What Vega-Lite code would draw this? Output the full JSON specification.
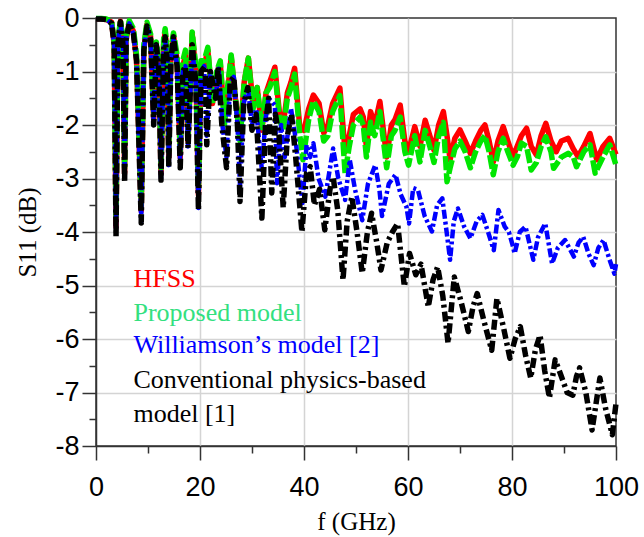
{
  "$schema": "https://vega.github.io/schema/vega-lite/v6.json",
  "width": 520,
  "height": 428,
  "autosize": {"type": "none"},
  "padding": {"left": 96, "top": 18, "right": 28, "bottom": 91},
  "background": "white",
  "config": {
    "view": {"stroke": "#333333", "strokeWidth": 1.5},
    "axis": {
      "domainColor": "#333333", "domainWidth": 1.5,
      "tickColor": "#333333", "tickWidth": 1.5,
      "gridColor": "#d4d4d4", "gridWidth": 1.5,
      "labelFont": "Liberation Sans", "labelFontSize": 27, "labelColor": "#000000",
      "titleFont": "Liberation Serif", "titleFontSize": 25, "titleFontWeight": "normal", "titleColor": "#000000",
      "labelOverlap": false, "labelFlush": false
    }
  },
  "datasets": {
    "hfss": [
      {"f":0,"s":-0.02},{"f":1,"s":-0.02},{"f":2,"s":-0.03},{"f":3,"s":-0.08},{"f":3.5,"s":-0.5},{"f":3.85,"s":-3.9},{"f":4.2,"s":-0.5},{"f":4.7,"s":-0.06},{"f":5.2,"s":-0.5},{"f":5.5,"s":-2.9},{"f":5.8,"s":-0.4},{"f":6.4,"s":-0.08},{"f":7.2,"s":-0.25},{"f":7.8,"s":-0.8},{"f":8.7,"s":-3.6},{"f":9.2,"s":-0.6},{"f":9.8,"s":-0.12},{"f":10.5,"s":-0.35},{"f":11.1,"s":-1.9},{"f":11.6,"s":-0.5},{"f":12.1,"s":-0.9},{"f":12.5,"s":-2.9},{"f":13,"s":-0.5},{"f":13.3,"s":-0.25},{"f":13.7,"s":-0.7},{"f":14,"s":-2.6},{"f":14.4,"s":-0.7},{"f":14.9,"s":-0.32},{"f":15.6,"s":-0.8},{"f":16.2,"s":-2.6},{"f":16.7,"s":-0.9},{"f":17.2,"s":-0.7},{"f":17.7,"s":-2.3},{"f":18.5,"s":-0.3},{"f":19.2,"s":-1.0},{"f":19.7,"s":-3.3},{"f":20.2,"s":-0.9},
      {"f":20.8,"s":-0.9},{"f":21.5,"s":-0.6},{"f":22.4,"s":-1.6},{"f":23.2,"s":-1.1},{"f":23.9,"s":-0.85},{"f":24.7,"s":-1.9},{"f":25.3,"s":-1.4},{"f":26,"s":-0.72},{"f":26.8,"s":-1.5},{"f":27.7,"s":-2.2},{"f":28.5,"s":-1.2},{"f":29.3,"s":-0.75},{"f":30.2,"s":-1.6},{"f":31,"s":-1.3},{"f":31.9,"s":-2.1},{"f":32.7,"s":-1.4},{"f":33.4,"s":-1.2},{"f":34.4,"s":-0.92},{"f":35.3,"s":-1.8},{"f":36,"s":-2.0},{"f":36.8,"s":-1.4},{"f":37.5,"s":-1.2},{"f":38.2,"s":-0.94},{"f":39.2,"s":-2.05},{"f":40,"s":-2.1},
      {"f":40.9,"s":-1.7},{"f":41.8,"s":-1.44},{"f":42.9,"s":-1.6},{"f":43.8,"s":-2.15},{"f":44.6,"s":-2.0},{"f":45.5,"s":-1.6},{"f":46.9,"s":-1.31},{"f":47.9,"s":-2.5},{"f":48.7,"s":-2.2},{"f":49.5,"s":-1.8},{"f":50.8,"s":-1.7},{"f":51.4,"s":-1.85},{"f":52,"s":-2.4},{"f":52.8,"s":-1.75},{"f":53.6,"s":-2.0},{"f":54.6,"s":-1.56},{"f":55.9,"s":-2.6},{"f":56.8,"s":-2.0},{"f":57.5,"s":-1.9},{"f":58.5,"s":-1.63},{"f":59.4,"s":-2.3},{"f":60.1,"s":-2.5},
      {"f":61.3,"s":-2.03},{"f":62.3,"s":-2.4},{"f":63.3,"s":-1.91},{"f":64.2,"s":-2.2},{"f":65,"s":-2.47},{"f":65.9,"s":-2.0},{"f":66.8,"s":-1.75},{"f":67.5,"s":-2.2},{"f":68.1,"s":-2.65},{"f":69,"s":-2.25},{"f":70,"s":-2.09},{"f":71,"s":-2.3},{"f":72,"s":-2.53},{"f":73,"s":-2.3},{"f":74,"s":-2.1},{"f":74.8,"s":-2.0},{"f":75.6,"s":-2.3},{"f":76.4,"s":-2.69},{"f":77.3,"s":-2.3},{"f":78.3,"s":-2.03},{"f":79.2,"s":-2.3},{"f":80.2,"s":-2.59},
      {"f":81,"s":-2.4},{"f":81.8,"s":-2.2},{"f":82.8,"s":-2.06},{"f":83.7,"s":-2.4},{"f":84.7,"s":-2.56},{"f":85.6,"s":-2.2},{"f":86.5,"s":-1.97},{"f":87.5,"s":-2.3},{"f":88.5,"s":-2.5},{"f":89.5,"s":-2.3},{"f":90.8,"s":-2.25},{"f":91.8,"s":-2.45},{"f":92.7,"s":-2.59},{"f":93.8,"s":-2.4},{"f":95,"s":-2.16},{"f":96.3,"s":-2.65},{"f":97.5,"s":-2.4},{"f":98.8,"s":-2.25},{"f":100,"s":-2.55}
    ],
    "proposed": [
      {"f":0,"s":-0.01},{"f":1,"s":-0.01},{"f":2,"s":-0.02},{"f":3,"s":-0.06},{"f":3.5,"s":-0.45},{"f":3.85,"s":-3.7},{"f":4.2,"s":-0.45},{"f":4.7,"s":-0.04},{"f":5.2,"s":-0.45},{"f":5.5,"s":-2.8},{"f":5.8,"s":-0.35},{"f":6.4,"s":-0.05},{"f":7.2,"s":-0.2},{"f":7.8,"s":-0.7},{"f":8.7,"s":-3.5},{"f":9.2,"s":-0.5},{"f":9.8,"s":-0.08},{"f":10.5,"s":-0.3},{"f":11.1,"s":-1.8},{"f":11.6,"s":-0.45},{"f":12.1,"s":-0.8},{"f":12.5,"s":-2.8},{"f":13,"s":-0.4},{"f":13.3,"s":-0.2},{"f":13.7,"s":-0.6},{"f":14,"s":-2.5},{"f":14.4,"s":-0.6},{"f":14.9,"s":-0.28},{"f":15.6,"s":-0.7},{"f":16.2,"s":-2.5},{"f":16.7,"s":-0.8},{"f":17.2,"s":-0.6},{"f":17.7,"s":-2.2},{"f":18.5,"s":-0.26},{"f":19.2,"s":-0.9},{"f":19.7,"s":-3.2},{"f":20.2,"s":-0.8},
      {"f":20.8,"s":-0.8},{"f":21.5,"s":-0.55},{"f":22.4,"s":-1.6},{"f":23.2,"s":-1.0},{"f":23.9,"s":-0.8},{"f":24.7,"s":-2.0},{"f":25.3,"s":-1.3},{"f":26,"s":-0.69},{"f":26.8,"s":-1.5},{"f":27.7,"s":-2.3},{"f":28.5,"s":-1.2},{"f":29.3,"s":-0.75},{"f":30.2,"s":-1.7},{"f":31,"s":-1.3},{"f":31.9,"s":-2.05},{"f":32.7,"s":-1.4},{"f":33.4,"s":-1.3},{"f":34.4,"s":-1.0},{"f":35.3,"s":-1.9},{"f":36,"s":-2.1},{"f":36.8,"s":-1.5},{"f":37.5,"s":-1.3},{"f":38.2,"s":-1.05},{"f":39.2,"s":-2.2},{"f":39.8,"s":-2.65},
      {"f":40.9,"s":-1.9},{"f":41.8,"s":-1.55},{"f":42.9,"s":-1.75},{"f":43.8,"s":-2.3},{"f":44.6,"s":-2.2},{"f":45.5,"s":-1.75},{"f":46.9,"s":-1.45},{"f":47.9,"s":-2.9},{"f":48.7,"s":-2.4},{"f":49.5,"s":-2.0},{"f":50.8,"s":-1.85},{"f":51.4,"s":-2.0},{"f":52,"s":-2.6},{"f":52.8,"s":-1.95},{"f":53.6,"s":-2.2},{"f":54.6,"s":-1.75},{"f":55.9,"s":-2.8},{"f":56.8,"s":-2.2},{"f":57.5,"s":-2.1},{"f":58.5,"s":-1.85},{"f":59.4,"s":-2.5},{"f":60.1,"s":-2.75},
      {"f":61.3,"s":-2.2},{"f":62.3,"s":-2.69},{"f":63.3,"s":-2.1},{"f":64.2,"s":-2.4},{"f":65,"s":-2.7},{"f":65.9,"s":-2.2},{"f":66.8,"s":-1.95},{"f":67.5,"s":-3.06},{"f":68.1,"s":-2.8},{"f":69,"s":-2.45},{"f":70,"s":-2.3},{"f":71,"s":-2.5},{"f":72,"s":-2.8},{"f":73,"s":-2.5},{"f":74,"s":-2.3},{"f":74.8,"s":-2.2},{"f":75.6,"s":-2.5},{"f":76.4,"s":-2.93},{"f":77.3,"s":-2.5},{"f":78.3,"s":-2.25},{"f":79.2,"s":-2.5},{"f":80.2,"s":-2.75},
      {"f":81,"s":-2.6},{"f":81.8,"s":-2.34},{"f":82.8,"s":-2.4},{"f":83.7,"s":-2.84},{"f":84.7,"s":-2.7},{"f":85.6,"s":-2.4},{"f":86.5,"s":-2.22},{"f":87.5,"s":-2.5},{"f":88,"s":-2.81},{"f":89.5,"s":-2.6},{"f":90.8,"s":-2.53},{"f":91.8,"s":-2.6},{"f":92.4,"s":-2.78},{"f":93.8,"s":-2.5},{"f":95,"s":-2.37},{"f":96,"s":-2.9},{"f":97.5,"s":-2.6},{"f":98.8,"s":-2.37},{"f":100,"s":-2.75}
    ],
    "williamson": [
      {"f":0,"s":-0.02},{"f":1,"s":-0.02},{"f":2,"s":-0.03},{"f":3,"s":-0.1},{"f":3.5,"s":-0.5},{"f":3.85,"s":-3.95},{"f":4.2,"s":-0.5},{"f":4.7,"s":-0.08},{"f":5.2,"s":-0.5},{"f":5.5,"s":-3.0},{"f":5.8,"s":-0.4},{"f":6.4,"s":-0.1},{"f":7.2,"s":-0.3},{"f":7.8,"s":-0.8},{"f":8.7,"s":-3.8},{"f":9.2,"s":-0.6},{"f":9.8,"s":-0.17},{"f":10.5,"s":-0.4},{"f":11.1,"s":-2.0},{"f":11.6,"s":-0.5},{"f":12.1,"s":-1.0},{"f":12.5,"s":-3.0},{"f":13,"s":-0.6},{"f":13.3,"s":-0.4},{"f":13.7,"s":-0.8},{"f":14,"s":-2.75},{"f":14.4,"s":-0.8},{"f":14.9,"s":-0.4},{"f":15.6,"s":-0.9},{"f":16.2,"s":-2.75},{"f":16.7,"s":-1.0},{"f":17.2,"s":-0.9},{"f":17.7,"s":-2.4},{"f":18.5,"s":-0.6},{"f":19.2,"s":-1.2},{"f":19.7,"s":-3.55},{"f":20.2,"s":-1.0},
      {"f":20.8,"s":-0.9},{"f":21.3,"s":-2.2},{"f":22,"s":-1.0},{"f":23,"s":-1.5},{"f":23.6,"s":-0.95},{"f":24.3,"s":-2.0},{"f":25.1,"s":-2.6},{"f":25.8,"s":-1.2},{"f":26.5,"s":-1.1},{"f":27.2,"s":-2.0},{"f":27.7,"s":-3.15},{"f":28.4,"s":-1.6},{"f":29.2,"s":-1.3},{"f":30,"s":-2.0},{"f":30.8,"s":-1.7},{"f":31.9,"s":-2.84},{"f":32.6,"s":-1.9},{"f":33.2,"s":-1.5},{"f":34.4,"s":-1.63},{"f":34.8,"s":-3.09},{"f":35.6,"s":-2.0},{"f":36.3,"s":-2.6},{"f":37.5,"s":-1.69},{"f":38.3,"s":-2.2},{"f":39.7,"s":-3.46},
      {"f":40.5,"s":-2.37},{"f":41.2,"s":-2.6},{"f":41.8,"s":-2.34},{"f":42.8,"s":-3.0},{"f":44.1,"s":-3.34},{"f":45,"s":-2.8},{"f":45.6,"s":-2.44},{"f":46.6,"s":-3.0},{"f":47.9,"s":-3.4},{"f":48.8,"s":-2.65},{"f":49.8,"s":-3.2},{"f":51.2,"s":-3.78},{"f":52.3,"s":-3.1},{"f":53.7,"s":-2.75},{"f":54.5,"s":-3.2},{"f":55,"s":-3.7},{"f":56.3,"s":-3.1},{"f":57.6,"s":-2.93},{"f":58.6,"s":-3.3},{"f":59.7,"s":-3.53},{"f":60.2,"s":-3.84},
      {"f":61,"s":-3.18},{"f":61.9,"s":-3.21},{"f":63.2,"s":-3.7},{"f":64.6,"s":-3.99},{"f":65.6,"s":-3.5},{"f":66.6,"s":-3.37},{"f":67.3,"s":-3.9},{"f":68.1,"s":-4.52},{"f":68.8,"s":-3.8},{"f":69.6,"s":-3.56},{"f":70.8,"s":-3.9},{"f":72,"s":-4.12},{"f":73.2,"s":-3.8},{"f":74.3,"s":-3.68},{"f":75.4,"s":-4.0},{"f":76.5,"s":-4.34},{"f":77.4,"s":-3.59},{"f":78.6,"s":-3.9},{"f":79.4,"s":-4.0},{"f":80.1,"s":-4.24},
      {"f":80.5,"s":-4.4},{"f":81.5,"s":-4.0},{"f":82.6,"s":-3.9},{"f":84.1,"s":-4.52},{"f":85,"s":-4.1},{"f":86.4,"s":-3.84},{"f":87.7,"s":-4.59},{"f":88.8,"s":-4.3},{"f":90.2,"s":-4.15},{"f":91.9,"s":-4.46},{"f":92.8,"s":-4.2},{"f":93.7,"s":-4.09},{"f":94.7,"s":-4.4},{"f":95.7,"s":-4.62},{"f":96.6,"s":-4.3},{"f":97.6,"s":-4.15},{"f":98.7,"s":-4.5},{"f":99.7,"s":-4.78},{"f":100,"s":-4.6}
    ],
    "conventional": [
      {"f":0,"s":-0.02},{"f":1,"s":-0.02},{"f":2,"s":-0.03},{"f":3,"s":-0.1},{"f":3.5,"s":-0.5},{"f":3.85,"s":-4.09},{"f":4.2,"s":-0.5},{"f":4.7,"s":-0.07},{"f":5.2,"s":-0.5},{"f":5.5,"s":-3.08},{"f":5.8,"s":-0.4},{"f":6.4,"s":-0.1},{"f":7.2,"s":-0.3},{"f":7.8,"s":-0.8},{"f":8.7,"s":-3.83},{"f":9.2,"s":-0.6},{"f":9.8,"s":-0.15},{"f":10.5,"s":-0.4},{"f":11.1,"s":-2.0},{"f":11.6,"s":-0.5},{"f":12.1,"s":-1.0},{"f":12.5,"s":-3.03},{"f":13,"s":-0.6},{"f":13.3,"s":-0.35},{"f":13.7,"s":-0.8},{"f":14,"s":-2.8},{"f":14.4,"s":-0.8},{"f":14.9,"s":-0.35},{"f":15.6,"s":-0.9},{"f":16.2,"s":-2.8},{"f":16.7,"s":-1.0},{"f":17.2,"s":-0.9},{"f":17.7,"s":-2.43},{"f":18.5,"s":-0.5},{"f":19.2,"s":-1.2},{"f":19.7,"s":-3.59},{"f":20.2,"s":-1.0},
      {"f":21,"s":-0.9},{"f":21.3,"s":-2.37},{"f":22,"s":-1.0},{"f":23,"s":-1.5},{"f":23.5,"s":-0.9},{"f":24.2,"s":-2.0},{"f":25.1,"s":-2.8},{"f":25.8,"s":-1.2},{"f":26.5,"s":-1.1},{"f":27.2,"s":-2.0},{"f":27.7,"s":-3.43},{"f":28.4,"s":-1.6},{"f":29.2,"s":-1.3},{"f":30,"s":-2.1},{"f":30.8,"s":-1.8},{"f":31.9,"s":-3.74},{"f":32.6,"s":-2.0},{"f":33.2,"s":-1.5},{"f":33.8,"s":-3.27},{"f":34.5,"s":-1.8},{"f":35.2,"s":-2.2},{"f":36,"s":-3.55},{"f":36.8,"s":-2.2},{"f":37.6,"s":-1.8},{"f":38.4,"s":-2.6},{"f":39.6,"s":-4.0},
      {"f":40.5,"s":-2.9},{"f":41.2,"s":-2.78},{"f":42,"s":-3.5},{"f":43,"s":-3.2},{"f":44,"s":-3.96},{"f":45,"s":-3.2},{"f":45.6,"s":-2.97},{"f":46.5,"s":-3.6},{"f":47.5,"s":-4.9},{"f":48.3,"s":-3.8},{"f":49.2,"s":-3.34},{"f":50.2,"s":-4.0},{"f":51.2,"s":-4.77},{"f":52.2,"s":-4.0},{"f":53,"s":-3.65},{"f":54,"s":-4.2},{"f":54.8,"s":-4.71},{"f":56,"s":-4.2},{"f":57,"s":-4.0},{"f":58,"s":-3.84},{"f":59.3,"s":-5.02},
      {"f":60.3,"s":-4.4},{"f":61.5,"s":-4.8},{"f":62.5,"s":-4.6},{"f":63.9,"s":-5.4},{"f":64.8,"s":-4.9},{"f":65.7,"s":-4.65},{"f":66.7,"s":-5.2},{"f":67.7,"s":-6.08},{"f":68.9,"s":-4.84},{"f":70.2,"s":-5.3},{"f":71.6,"s":-5.86},{"f":72.5,"s":-5.4},{"f":73.3,"s":-5.15},{"f":74.7,"s":-5.7},{"f":76.1,"s":-6.21},{"f":77.1,"s":-5.24},{"f":78.4,"s":-5.8},{"f":79.6,"s":-6.36},
      {"f":80.6,"s":-6.0},{"f":81.6,"s":-5.77},{"f":82.6,"s":-6.3},{"f":83.6,"s":-6.73},{"f":84.5,"s":-6.2},{"f":85.4,"s":-5.93},{"f":86.3,"s":-6.6},{"f":87.2,"s":-7.1},{"f":88.3,"s":-6.39},{"f":89.5,"s":-6.7},{"f":90.6,"s":-7.0},{"f":91.7,"s":-7.05},{"f":92.4,"s":-6.7},{"f":93,"s":-6.54},{"f":94.2,"s":-7.0},{"f":95.4,"s":-7.7},{"f":96.9,"s":-6.73},{"f":98,"s":-7.3},{"f":99.3,"s":-7.79},{"f":100,"s":-7.2}
    ],
    "labels": [
      {"label":"HFSS","model":"HFSS","f":7.2,"s":-5.02},
      {"label":"Proposed model","model":"Proposed","f":7.2,"s":-5.66},
      {"label":"Williamson’s model [2]","model":"Williamson","f":7.2,"s":-6.27},
      {"label":"Conventional physics-based","model":"Conventional","f":7.2,"s":-6.92},
      {"label":"model [1]","model":"Conventional","f":7.2,"s":-7.56}
    ]
  },
  "encoding": {
    "x": {
      "field": "f", "type": "quantitative",
      "scale": {"domain": [0, 100], "nice": false, "zero": false},
      "axis": {
        "title": "f (GHz)",
        "values": [0, 10, 20, 30, 40, 50, 60, 70, 80, 90, 100],
        "labelExpr": "datum.value % 20 == 0 ? datum.label : ''",
        "tickSize": {"condition": {"test": "datum.value % 20 != 0", "value": 7}, "value": 14},
        "gridOpacity": {"condition": {"test": "datum.value % 20 != 0 || datum.value == 0 || datum.value == 100", "value": 0}, "value": 1},
        "labelPadding": 14,
        "titlePadding": 9
      }
    },
    "y": {
      "field": "s", "type": "quantitative",
      "scale": {"domain": [-8, 0], "nice": false, "zero": false},
      "axis": {
        "title": "S11 (dB)",
        "values": [0, -0.5, -1, -1.5, -2, -2.5, -3, -3.5, -4, -4.5, -5, -5.5, -6, -6.5, -7, -7.5, -8],
        "labelExpr": "datum.value % 1 != 0 ? '' : (datum.value == 0 ? '0' : '-' + abs(datum.value))",
        "tickSize": {"condition": {"test": "datum.value % 1 != 0", "value": 7}, "value": 14},
        "gridOpacity": {"condition": {"test": "datum.value % 1 != 0 || datum.value == 0 || datum.value == -8", "value": 0}, "value": 1},
        "labelPadding": 3,
        "titlePadding": 14
      }
    }
  },
  "layer": [
    {"data": {"name": "hfss"}, "mark": {"type": "line", "color": "#ff0000", "strokeWidth": 5.5, "strokeJoin": "round"}},
    {"data": {"name": "proposed"}, "mark": {"type": "line", "color": "#00e600", "strokeWidth": 5.5, "strokeJoin": "round", "strokeDash": [14, 3]}},
    {"data": {"name": "williamson"}, "mark": {"type": "line", "color": "#0000ff", "strokeWidth": 4.5, "strokeJoin": "round", "strokeDash": [9, 3, 3, 3]}},
    {"data": {"name": "conventional"}, "mark": {"type": "line", "color": "#000000", "strokeWidth": 5.5, "strokeJoin": "round", "strokeDash": [10, 4, 3, 4]}},
    {
      "data": {"name": "labels"},
      "mark": {"type": "text", "align": "left", "baseline": "alphabetic", "font": "Liberation Serif", "fontSize": 26},
      "encoding": {
        "text": {"field": "label"},
        "color": {
          "field": "model", "type": "nominal", "legend": null,
          "scale": {"domain": ["HFSS", "Proposed", "Williamson", "Conventional"], "range": ["#ff0000", "#33e07f", "#0000ff", "#000000"]}
        }
      }
    }
  ]
}
